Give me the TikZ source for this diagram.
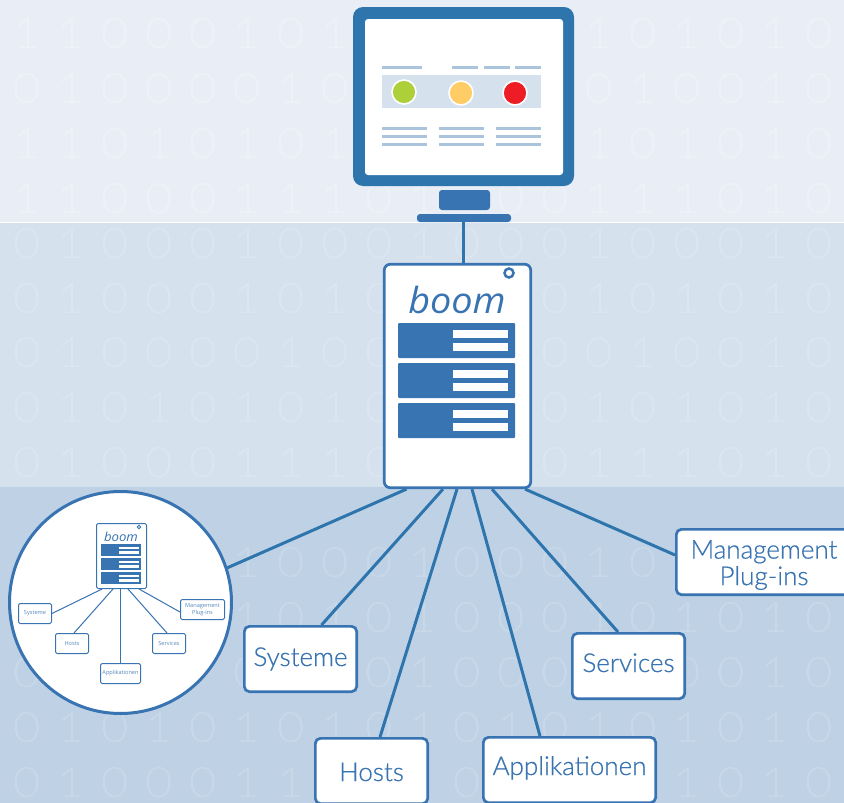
\documentclass[tikz,border=0pt]{standalone}
\usepackage{fontspec}
\setmainfont{Open Sans}
\newfontfamily\labelfont{Lato Light}
\newfontfamily\boxfont{Lato Light}[RawFeature={embolden=0.6}]
\definecolor{bandA}{HTML}{E9EEF6}
\definecolor{bandB}{HTML}{D5E1ED}
\definecolor{bandC}{HTML}{BFD2E5}
\definecolor{digA}{HTML}{EEF2F8}
\definecolor{digB}{HTML}{DBE6F0}
\definecolor{digC}{HTML}{C7D8E9}
\definecolor{blueA}{HTML}{3873B2}
\definecolor{blueM}{HTML}{2E75AE}
\definecolor{barc}{HTML}{ABC4DD}
\definecolor{lampG}{HTML}{ADD03A}
\definecolor{lampY}{HTML}{FFCC66}
\definecolor{lampR}{HTML}{EE1C25}
\tikzset{
  digitnode/.style={font=\labelfont\fontsize{42}{42}\selectfont,xscale=1.12,inner sep=0pt,anchor=center,text height=30pt,text depth=0pt},
  bigbox/.style={draw=blueA,fill=white,line width=2.7pt,rounded corners=5pt,inner sep=0pt,text=blueA,align=center,font=\boxfont\fontsize{26}{26.5}\selectfont},
  tinybox/.style={draw=blueA,fill=white,line width=1pt,rounded corners=1.5pt,inner sep=0pt,text=blueA!85,align=center,font=\fontsize{5.6}{6.6}\selectfont},
  bigconn/.style={draw=blueM,line width=3pt},
  tinyconn/.style={draw=blueA,line width=1pt},
  lamp/.style={circle,draw=white,line width=1.6pt,minimum size=24pt,inner sep=0pt},
  barline/.style={fill=barc,draw=none},
  solidblue/.style={fill=blueA,draw=none,rounded corners=1pt},
  whitebar/.style={fill=white,draw=none},
}
\newcommand{\digitrow}[3]{%
  \foreach \dg [count=\cl from 0] in {#2}{%
    \if\dg-\else
      \node[digitnode,text=#3] (d#1x\cl) at ({27+44*\cl},#1) {\dg};
    \fi
  }%
}
\begin{document}
\begin{tikzpicture}[x=1pt,y=-1pt]
\useasboundingbox (0,0) rectangle (844,803);
\clip (0,0) rectangle (844,803);
% bands
\fill[bandA] (0,0) rectangle (844,222);
\fill[white] (0,221.5) rectangle (844,223);
\fill[bandB] (0,223) rectangle (844,487);
\fill[bandC] (0,487) rectangle (844,803);
% digits
\digitrow{33}{1,1,0,0,0,1,0,1,-,-,-,-,-,1,0,1,0,1,0}{digA}
\digitrow{88}{0,1,0,0,0,0,1,0,-,-,-,-,-,0,1,0,0,1,0}{digA}
\digitrow{143}{1,1,0,1,0,1,0,1,-,-,-,-,-,1,0,1,0,1,0}{digA}
\digitrow{198}{1,1,0,0,0,1,1,1,0,1,-,0,0,1,1,1,0,1,0}{digA}
\digitrow{243}{0,1,0,0,0,1,0,0,0,1,0,0,0,1,0,0,0,1,0}{digB}
\digitrow{298}{0,1,0,0,0,1,0,1,0,-,-,-,0,1,0,1,0,1,0}{digB}
\digitrow{352}{0,1,0,0,0,0,1,0,0,-,-,-,0,0,1,0,0,1,0}{digB}
\digitrow{407}{0,1,0,1,0,1,0,1,0,-,-,-,0,1,0,1,0,1,0}{digB}
\digitrow{462}{0,1,0,0,0,1,1,1,0,-,-,-,0,1,1,1,0,1,0}{digB}
\digitrow{562}{-,-,-,-,-,1,0,0,0,1,0,0,0,1,0,-,-,-,-}{digC}
\digitrow{617}{-,-,-,-,-,1,0,1,0,1,0,0,0,1,0,1,0,1,0}{digC}
\digitrow{672}{0,-,-,-,-,0,-,-,0,1,0,0,0,-,-,0,0,1,0}{digC}
\digitrow{727}{0,1,0,1,0,1,0,1,0,1,0,1,0,1,0,1,0,1,0}{digC}
\digitrow{782}{0,1,0,0,0,1,1,-,-,-,0,-,-,-,-,1,0,1,0}{digC}
% monitor
\node[draw=none,fill=blueM,rounded corners=10pt,minimum width=221pt,minimum height=179pt,inner sep=0pt] (monitor) at (463.5,96.5) {};
\node[draw=none,fill=white,rounded corners=3pt,minimum width=198pt,minimum height=156pt,inner sep=0pt] (screen) at (464,97) {};
\node[fill=blueA,rounded corners=3pt,minimum width=51pt,minimum height=20pt,inner sep=0pt] (stand) at (464.5,200) {};
\node[fill=blueA,rounded corners=3pt,minimum width=94pt,minimum height=8pt,inner sep=0pt] (base) at (464,218) {};
\foreach \a/\b in {382/422,452/478,484/510,515/541} \fill[barline] (\a,66) rectangle (\b,69);
\fill[bandB] (382,75) rectangle (541,108);
\node[lamp,fill=lampG] (lampa) at (404,92) {};
\node[lamp,fill=lampY] (lampb) at (461,93) {};
\node[lamp,fill=lampR] (lampc) at (515,93) {};
\foreach \a/\b in {382/427,439/484,496/541}
  \foreach \y in {127,135,143} \fill[barline] (\a,\y) rectangle (\b,\y+3);
% server
\node[draw=blueA,fill=white,line width=2.7pt,rounded corners=6pt,minimum width=146.5pt,minimum height=223.5pt,inner sep=0pt] (server) at (457.5,376) {};
\draw[bigconn] ([xshift=-1pt]base.south) -- ([xshift=-1pt]base.south |- server.north);
\node[circle,draw=blueA,line width=2.5pt,minimum size=9pt,inner sep=0pt] (hole) at (509,273) {};
\node[text=blueA,inner sep=0pt,anchor=base,xscale=1.05,font=\fontsize{36}{36}\selectfont\itshape] (boomlabel) at (457,313.5) {boom};
\foreach \y in {323,363,403}{
  \fill[solidblue] (398,\y) rectangle (515,\y+35);
  \fill[whitebar] (453,\y+7) rectangle (508,\y+15);
  \fill[whitebar] (453,\y+20) rectangle (508,\y+28);
}
% inset circle
\node[circle,draw=blueA,fill=white,line width=3pt,minimum size=222pt,inner sep=0pt] (inset) at (120.5,602.5) {};
% boxes
\node[bigbox,minimum width=112.3pt,minimum height=65.3pt,text height=20pt,text depth=6pt] (systeme) at (300.5,659) {Systeme};
\node[bigbox,minimum width=112.3pt,minimum height=65.3pt,text height=24pt,text depth=4pt] (hosts) at (371.5,771) {Hosts};
\node[bigbox,minimum width=172.3pt,minimum height=65.3pt,text height=18pt,text depth=8pt] (appl) at (569.5,770) {Applikationen};
\node[bigbox,minimum width=112.3pt,minimum height=65.3pt,text height=20pt,text depth=8pt] (services) at (628.5,666) {Services};
\node[bigbox,minimum width=175.3pt,minimum height=65.3pt] (mgmt) at (764,562) {\rule{0pt}{24.5pt}Management\\Plug-ins};
% connectors
\draw[bigconn] ([xshift=-51pt]server.south) -- (inset.18);
\draw[bigconn] ([xshift=-14.5pt]server.south) -- ([xshift=21pt]systeme.north);
\draw[bigconn] ([xshift=-0.5pt]server.south) -- ([xshift=8.5pt]hosts.north);
\draw[bigconn] ([xshift=14.5pt]server.south) -- ([xshift=-29.5pt]appl.north);
\draw[bigconn] ([xshift=34.5pt]server.south) -- ([xshift=-10.5pt]services.north);
\draw[bigconn] ([xshift=67.5pt]server.south) -- ([yshift=7pt]mgmt.west);
% inset diagram
\node[draw=blueA,fill=white,line width=1pt,rounded corners=1.5pt,minimum width=50pt,minimum height=65pt,inner sep=0pt] (srv) at (121.5,556) {};
\node[circle,draw=blueA,line width=.8pt,minimum size=3.4pt,inner sep=0pt] (srvhole) at (139,527) {};
\node[text=blueA,inner sep=0pt,anchor=base,xscale=1.05,font=\fontsize{12.5}{13}\selectfont\itshape] (srvboom) at (121,541) {boom};
\foreach \y in {544,558,572}{
  \fill[blueA] (101,\y) rectangle (141,\y+12);
  \fill[whitebar] (119,\y+2.5) rectangle (139,\y+5);
  \fill[whitebar] (119,\y+7.3) rectangle (139,\y+9.8);
}
\node[tinybox,minimum width=33pt,minimum height=20pt] (tsys) at (35,613.5) {Systeme};
\node[tinybox,minimum width=33pt,minimum height=20pt] (thost) at (72,643.5) {Hosts};
\node[tinybox,minimum width=40pt,minimum height=20pt] (tappl) at (120.5,673.5) {Applikationen};
\node[tinybox,minimum width=33pt,minimum height=20pt] (tserv) at (169,643.5) {Services};
\node[tinybox,minimum width=44pt,minimum height=20pt] (tmgmt) at (202.5,609.5) {Management\\Plug-ins};
\draw[tinyconn] ([xshift=-19.5pt]srv.south) -- (tsys.east);
\draw[tinyconn] ([xshift=-8.5pt]srv.south) -- ([xshift=2pt]thost.north);
\draw[tinyconn] (srv.south -| tappl.north) -- (tappl.north);
\draw[tinyconn] ([xshift=6.5pt]srv.south) -- ([xshift=-2pt]tserv.north);
\draw[tinyconn] ([xshift=17.5pt]srv.south) -- ([yshift=-2.5pt]tmgmt.west);
\end{tikzpicture}
\end{document}
